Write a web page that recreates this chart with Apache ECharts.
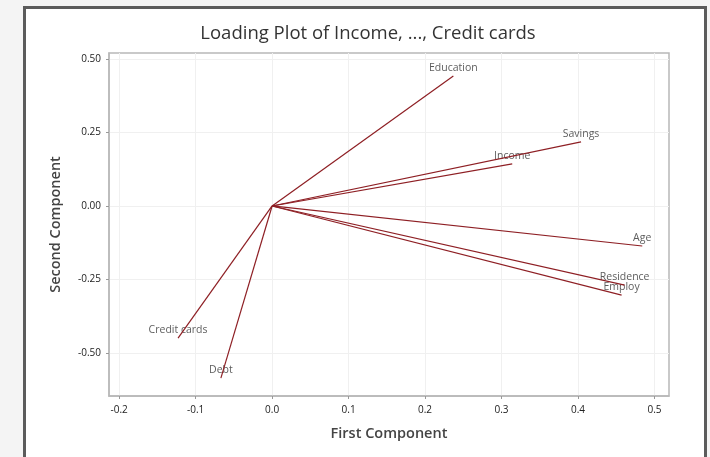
<!DOCTYPE html>
<html>
<head>
<meta charset="utf-8">
<script src="https://cdn.jsdelivr.net/npm/echarts@6/dist/echarts.min.js"></script>
<style>
  html, body { margin: 0; padding: 0; background: #f4f4f4; }
  #frame { position: absolute; left: 23px; top: 6px; width: 678px; height: 460px;
           border: 3px solid #5b5b5b; border-bottom: none; background: #ffffff; }
  #chart { position: absolute; left: 0; top: 0; width: 710px; height: 457px; }
</style>
</head>
<body>
<div id="frame"></div>
<div id="chart"></div>
<script>
const variables = ['Education', 'Savings', 'Income', 'Age', 'Residence', 'Employ', 'Credit cards', 'Debt'];
const firstComponent  = [0.237, 0.404, 0.314, 0.484, 0.461, 0.457, -0.123, -0.067];
const secondComponent = [0.442, 0.218, 0.143, -0.136, -0.269, -0.303, -0.449, -0.585];
const xTicks = [-0.2, -0.1, 0.0, 0.1, 0.2, 0.3, 0.4, 0.5];
const yTicks = [-0.5, -0.25, 0.0, 0.25, 0.5];

const chart = echarts.init(document.getElementById('chart'), null, { renderer: 'canvas' });
const font = '"Open Sans", "Noto Sans", sans-serif';

const lineSeries = variables.map((name, i) => ({
  type: 'line',
  name: name,
  symbol: 'none',
  animation: false,
  lineStyle: { color: '#8e1f24', width: 1.2 },
  data: [[0, 0], [firstComponent[i], secondComponent[i]]]
}));

const labelSeries = {
  type: 'scatter',
  name: 'labels',
  symbolSize: 1,
  animation: false,
  itemStyle: { color: 'rgba(0,0,0,0)' },
  label: {
    show: true, position: 'top', distance: 2,
    formatter: p => p.name, color: '#333', fontSize: 10.5, fontFamily: font
  },
  data: variables.map((name, i) => ({ name: name, value: [firstComponent[i], secondComponent[i]] }))
};

chart.setOption({
  backgroundColor: 'transparent',
  animation: false,
  title: {
    text: 'Loading Plot of Income, ..., Credit cards',
    left: 363, top: 19, textAlign: 'center',
    textStyle: { fontFamily: font, fontSize: 18.5, fontWeight: 'normal', color: '#333' }
  },
  grid: { left: 109, right: 41, top: 53, bottom: 61, show: true, borderColor: '#b8b8b8', borderWidth: 1.5, backgroundColor: '#fff' },
  xAxis: {
    type: 'value', min: -0.2133, max: 0.519,
    name: 'First Component', nameLocation: 'middle', nameGap: 30,
    nameTextStyle: { fontFamily: font, fontSize: 14.5, fontWeight: 600, color: '#444' },
    axisLine: { show: true, onZero: false, lineStyle: { color: '#b8b8b8', width: 1.5 } },
    axisTick: { show: true, length: 3, customValues: xTicks, lineStyle: { color: '#999' } },
    axisLabel: { customValues: xTicks, fontFamily: font, fontSize: 10, color: '#222', margin: 9,
                 formatter: v => v.toFixed(1) },
    splitLine: { show: true, lineStyle: { color: '#f0f0f0', width: 1 } }
  },
  yAxis: {
    type: 'value', min: -0.646, max: 0.52,
    name: 'Second Component', nameLocation: 'middle', nameGap: 46,
    nameTextStyle: { fontFamily: font, fontSize: 14.5, fontWeight: 600, color: '#444' },
    axisLine: { show: true, onZero: false, lineStyle: { color: '#b8b8b8', width: 1.5 } },
    axisTick: { show: true, length: 3, customValues: yTicks, lineStyle: { color: '#999' } },
    axisLabel: { customValues: yTicks, fontFamily: font, fontSize: 10, color: '#222', margin: 8,
                 formatter: v => v.toFixed(2) },
    splitLine: { show: true, lineStyle: { color: '#f0f0f0', width: 1 } }
  },
  series: lineSeries.concat([labelSeries])
});
</script>
</body>
</html>
